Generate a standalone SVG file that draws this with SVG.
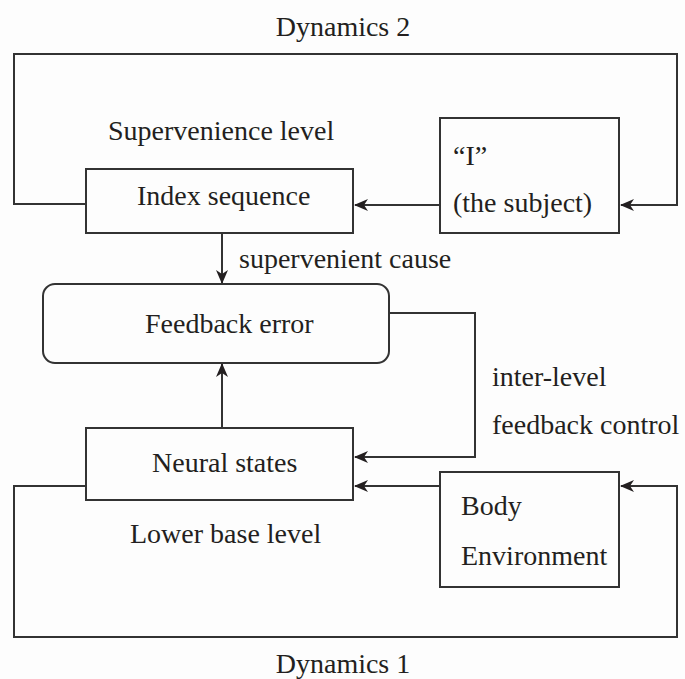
<svg xmlns="http://www.w3.org/2000/svg" width="685" height="679" viewBox="0 0 685 679">
<style>
  text { font-family: "Liberation Serif", "Times New Roman", serif; font-size: 28px; fill: #231f20; }
  .box { fill: none; stroke: #333; stroke-width: 2; }
  .conn { fill: none; stroke: #333; stroke-width: 2; }
</style>
<defs>
  <marker id="arr" markerUnits="userSpaceOnUse" markerWidth="14" markerHeight="12" viewBox="0 0 14 12" refX="13" refY="6" orient="auto">
    <path d="M0,0 L14,6 L0,12 L4,6 Z" fill="#231f20"/>
  </marker>
</defs>
<rect width="685" height="679" fill="#fdfdfd"/>

<g id="connectors">
  <path class="conn" d="M86,204 H14 V54 H677 V205 H621" marker-end="url(#arr)"/>
  <path class="conn" d="M440,205 H355" marker-end="url(#arr)"/>
  <path class="conn" d="M222,233 V283" marker-end="url(#arr)"/>
  <path class="conn" d="M222,428 V364" marker-end="url(#arr)"/>
  <path class="conn" d="M389,313 H475 V457 H355" marker-end="url(#arr)"/>
  <path class="conn" d="M440,486 H355" marker-end="url(#arr)"/>
  <path class="conn" d="M86,486 H14 V637 H677 V486 H621" marker-end="url(#arr)"/>
</g>

<g id="labels">
  <text x="343" y="36" text-anchor="middle">Dynamics 2</text>
  <text x="108" y="140">Supervenience level</text>
  <text x="239" y="268">supervenient cause</text>
  <text x="492" y="386">inter-level</text>
  <text x="492" y="434">feedback control</text>
  <text x="130" y="543">Lower base level</text>
  <text x="343" y="673" text-anchor="middle">Dynamics 1</text>
</g>

<g id="index-sequence">
  <rect class="box" x="86" y="169" width="267" height="64"/>
  <text x="137" y="205">Index sequence</text>
</g>

<g id="subject">
  <rect class="box" x="440" y="118" width="179" height="115"/>
  <text x="453" y="165">“I”</text>
  <text x="453" y="212">(the subject)</text>
</g>

<g id="feedback-error">
  <rect class="box" x="43" y="284" width="346" height="79" rx="12" ry="12"/>
  <text x="145" y="333">Feedback error</text>
</g>

<g id="neural-states">
  <rect class="box" x="86" y="428" width="267" height="72"/>
  <text x="152" y="472">Neural states</text>
</g>

<g id="body-environment">
  <rect class="box" x="440" y="472" width="179" height="115"/>
  <text x="461" y="515">Body</text>
  <text x="461" y="565">Environment</text>
</g>
</svg>
